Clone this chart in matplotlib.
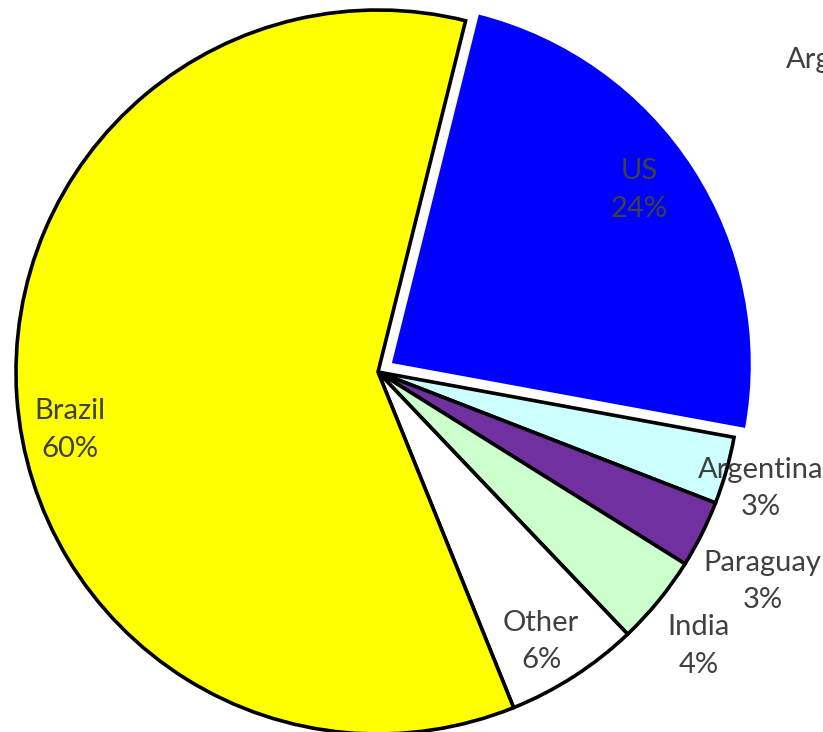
import numpy as np
import matplotlib.pyplot as plt

# share of production by country
countries = ["US", "Argentina", "Paraguay", "India", "Other", "Brazil"]
shares = [24, 3, 3, 4, 6, 60]
colors = ["#0000FF", "#CCFFFF", "#7030A0", "#CCFFCC", "#FFFFFF", "#FFFF00"]

# label placement (radial distance as fraction of radius, angle tweak in degrees)
label_dist = [0.88, 1.105, 1.21, 1.165, 0.87, 0.865]
label_dang = [2.0, -1.1, -2.0, -1.3, -1.6, 6.7]

plt.rcParams["font.family"] = ["Lato", "DejaVu Sans"]
text_color = "#404040"

W, H = 823, 732
cx, cy, R = 378, 372, 362  # pie centre / radius in pixels

fig = plt.figure(figsize=(W / 100, H / 100), dpi=100)
ax = fig.add_axes([0, 0, 1, 1])
ax.axis("off")

explode = [0.04, 0, 0, 0, 0, 0]
wedges, _ = ax.pie(
    shares,
    colors=colors,
    explode=explode,
    startangle=76,
    counterclock=False,
    radius=1.0,
    wedgeprops=dict(edgecolor="black", linewidth=2.6),
)
ax.set_xlim(-cx / R, (W - cx) / R)
ax.set_ylim(-(H - cy) / R, cy / R)
ax.set_aspect("auto")
wedges[0].set_edgecolor("white")
wedges[0].set_linewidth(2)

for w, name, val, d, da in zip(wedges, countries, shares, label_dist, label_dang):
    mid = np.deg2rad((w.theta1 + w.theta2) / 2 + da)
    x, y = d * np.cos(mid), d * np.sin(mid)
    ax.text(x, y, f"{name}\n{val}%", ha="center", va="center",
            fontsize=21, color=text_color, linespacing=1.55)

# title, mostly cut off at the right edge (as in the source image)
fig.text(786 / W, 1 - 60 / H, "Argentina", ha="left", va="center",
         fontsize=21, color=text_color)

fig.savefig("out.png", dpi=100)
